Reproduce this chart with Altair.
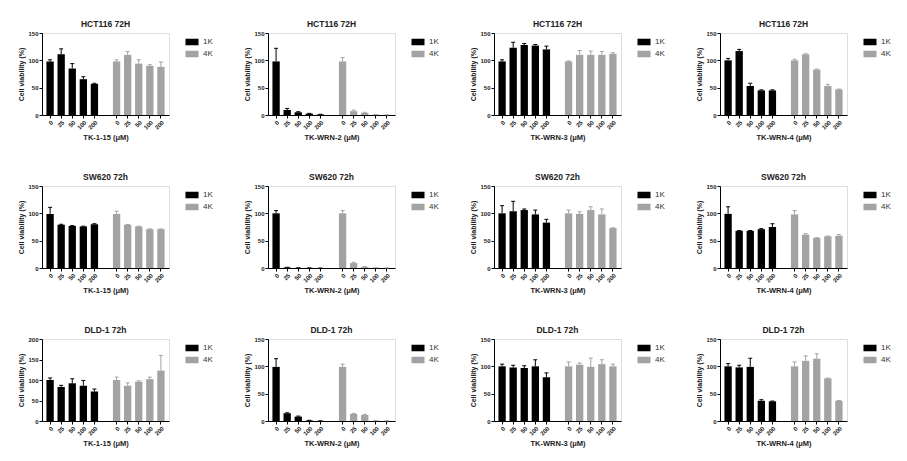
import altair as alt
import pandas as pd

concs = ["0", "25", "50", "100", "200"]
groups = ["1K", "4K"]
colors = ["#000000", "#a3a3a3"]

cell_lines = ["HCT116 72H", "SW620 72h", "DLD-1 72h"]
compounds = ["TK-1-15 (μM)", "TK-WRN-2 (μM)", "TK-WRN-3 (μM)", "TK-WRN-4 (μM)"]
y_max = [[150, 150, 150, 150], [150, 150, 150, 150], [200, 150, 150, 150]]

# Row 1: HCT116
hct_115_1k = [98, 111, 85, 65.5, 57]
hct_115_1k_sd = [3, 10, 9, 4.5, 1]
hct_115_4k = [98, 110, 94, 90, 88]
hct_115_4k_sd = [3, 6, 7, 2, 9]

hct_w2_1k = [98, 9, 5, 2.5, 1]
hct_w2_1k_sd = [24, 3, 1, 0.5, 0.3]
hct_w2_4k = [98, 7, 4, 0.5, 0.3]
hct_w2_4k_sd = [7, 2, 1, 0.2, 0.1]

hct_w3_1k = [98, 123, 128, 127, 120]
hct_w3_1k_sd = [3, 10, 3, 2, 6]
hct_w3_4k = [98, 110, 110, 110, 112]
hct_w3_4k_sd = [1, 8, 7, 6, 2]

hct_w4_1k = [100, 117, 53, 45, 45]
hct_w4_1k_sd = [3.5, 3, 5, 1, 1]
hct_w4_4k = [100, 111, 83, 53, 47]
hct_w4_4k_sd = [2, 1, 1, 3, 0.5]

# Row 2: SW620
sw_115_1k = [99, 79, 77, 76, 80]
sw_115_1k_sd = [12, 1, 0.5, 0.5, 1]
sw_115_4k = [99, 79, 76, 71, 71]
sw_115_4k_sd = [5, 0.5, 0.5, 0.5, 0.5]

sw_w2_1k = [100, 1, 0.3, 0.2, 0]
sw_w2_1k_sd = [5, 0.3, 0.1, 0.1, 0]
sw_w2_4k = [100, 9, 2, 0.5, 0.2]
sw_w2_4k_sd = [5, 1.5, 0.5, 0.1, 0.1]

sw_w3_1k = [100, 104, 106, 98, 83]
sw_w3_1k_sd = [14, 18, 2, 8, 6]
sw_w3_4k = [100, 99, 106, 98, 73]
sw_w3_4k_sd = [6, 4, 6, 10, 0.5]

sw_w4_1k = [99, 68, 68, 71, 75]
sw_w4_1k_sd = [13, 0.5, 0.5, 1, 6]
sw_w4_4k = [98, 61, 55, 58, 59]
sw_w4_4k_sd = [7, 2, 0.5, 0.5, 2]

# Row 3: DLD-1
dld_115_1k = [100, 83, 92, 86, 72]
dld_115_1k_sd = [5, 4, 11, 13, 6]
dld_115_4k = [100, 86, 96, 102, 123]
dld_115_4k_sd = [7, 7, 2, 5, 37]

dld_w2_1k = [99, 14, 8, 1, 0.3]
dld_w2_1k_sd = [15, 1, 1, 0.3, 0.1]
dld_w2_4k = [99, 13, 11, 0.5, 0.3]
dld_w2_4k_sd = [5, 1, 1, 0.1, 0.1]

dld_w3_1k = [100, 98, 97, 100, 80]
dld_w3_1k_sd = [4, 4, 4, 12, 8]
dld_w3_4k = [100, 103, 99, 104, 100]
dld_w3_4k_sd = [8, 3, 16, 8, 4]

dld_w4_1k = [100, 98, 99, 37, 36]
dld_w4_1k_sd = [5, 4, 16, 2, 0.5]
dld_w4_4k = [100, 110, 114, 78, 37]
dld_w4_4k_sd = [8, 9, 9, 0.5, 0.5]

panels_data = [
    [(hct_115_1k, hct_115_1k_sd, hct_115_4k, hct_115_4k_sd),
     (hct_w2_1k, hct_w2_1k_sd, hct_w2_4k, hct_w2_4k_sd),
     (hct_w3_1k, hct_w3_1k_sd, hct_w3_4k, hct_w3_4k_sd),
     (hct_w4_1k, hct_w4_1k_sd, hct_w4_4k, hct_w4_4k_sd)],
    [(sw_115_1k, sw_115_1k_sd, sw_115_4k, sw_115_4k_sd),
     (sw_w2_1k, sw_w2_1k_sd, sw_w2_4k, sw_w2_4k_sd),
     (sw_w3_1k, sw_w3_1k_sd, sw_w3_4k, sw_w3_4k_sd),
     (sw_w4_1k, sw_w4_1k_sd, sw_w4_4k, sw_w4_4k_sd)],
    [(dld_115_1k, dld_115_1k_sd, dld_115_4k, dld_115_4k_sd),
     (dld_w2_1k, dld_w2_1k_sd, dld_w2_4k, dld_w2_4k_sd),
     (dld_w3_1k, dld_w3_1k_sd, dld_w3_4k, dld_w3_4k_sd),
     (dld_w4_1k, dld_w4_1k_sd, dld_w4_4k, dld_w4_4k_sd)],
]

FONT = "Liberation Sans"
domain = [f"1K {c}" for c in concs] + ["gap"] + [f"4K {c}" for c in concs]
tick_vals = [d for d in domain if d != "gap"]


def panel(title, xtitle, m1, s1, m4, s4, ymax):
    rows = []
    for g, m, s in (("1K", m1, s1), ("4K", m4, s4)):
        for c, v, e in zip(concs, m, s):
            rows.append({"key": f"{g} {c}", "group": g, "mean": v, "top": v + e})
    df = pd.DataFrame(rows)
    x = alt.X(
        "key:N",
        sort=domain,
        scale=alt.Scale(domain=domain, paddingInner=0.34, paddingOuter=0.4),
        axis=alt.Axis(
            title=xtitle, values=tick_vals,
            labelExpr="split(datum.value, ' ')[1]",
            labelAngle=-45, labelFontSize=6, labelFont=FONT, labelFontWeight="bold",
            labelPadding=1, tickSize=3, titleFontSize=7.5, titleFont=FONT,
            titleFontWeight="bold", titlePadding=3, domainColor="#000",
            tickColor="#000", labelColor="#222", titleColor="#222",
        ),
    )
    yvals = list(range(0, ymax + 1, 50))
    yscale = alt.Scale(domain=[0, ymax], nice=False)
    y = alt.Y(
        "mean:Q",
        scale=yscale,
        axis=alt.Axis(
            title="Cell viability (%)", values=yvals, tickCount=len(yvals),
            grid=False, tickSize=3,
            labelFontSize=6, labelFont=FONT, labelFontWeight="bold", labelPadding=1,
            labelOverlap=False,
            titleFontSize=7, titleFont=FONT, titleFontWeight="bold", titlePadding=3,
            domainColor="#000", tickColor="#000", labelColor="#222", titleColor="#222",
        ),
    )
    color_scale = alt.Scale(domain=groups, range=colors)
    color = alt.Color(
        "group:N", scale=color_scale,
        legend=alt.Legend(
            title=None, orient="right", offset=14,
            symbolType="M-1,-0.5H1V0.5H-1Z", symbolSize=170,
            symbolStrokeWidth=0, symbolOpacity=1, labelFont=FONT, labelFontSize=8,
            labelColor="#333", rowPadding=1, labelOffset=4, padding=2,
        ),
    )
    base = alt.Chart(df)
    bars = base.mark_bar(opacity=1).encode(x=x, y=y, color=color)
    err = base.mark_rule(strokeWidth=1).encode(x=x, y=y, y2="top:Q", color=color)
    cap = base.mark_tick(thickness=1, size=4, opacity=1).encode(
        x=x, y=alt.Y("top:Q", scale=yscale), color=color,
    )
    return alt.layer(bars, err, cap).properties(
        width=127, height=82,
        title=alt.TitleParams(title, font=FONT, fontSize=8.5, fontWeight="bold",
                              color="#222", offset=2),
    )


rows_charts = []
for r, line in enumerate(cell_lines):
    ps = []
    for c, comp in enumerate(compounds):
        m1, s1, m4, s4 = panels_data[r][c]
        ps.append(panel(line, comp, m1, s1, m4, s4, y_max[r][c]))
    rows_charts.append(alt.hconcat(*ps, spacing=27).resolve_scale(color="independent"))

chart = alt.vconcat(*rows_charts, spacing=30).resolve_scale(color="independent").properties(
    padding={"left": 17, "top": 19, "right": 0, "bottom": 0}
).configure_view(stroke=None).configure(background="white")

chart.save("out.html", embed_options={"renderer": "svg", "actions": False})
